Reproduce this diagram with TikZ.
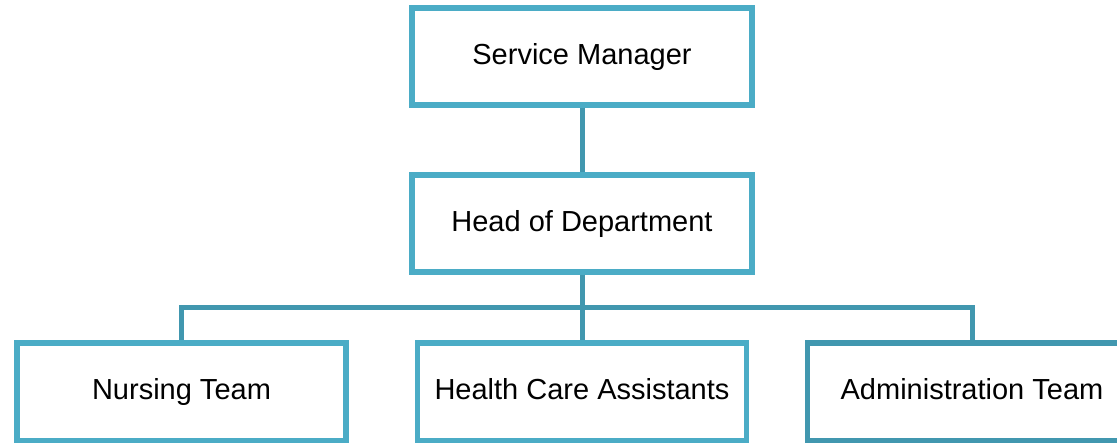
\documentclass[tikz,border=0pt]{standalone}
\usepackage{fontspec}
\setmainfont{Liberation Sans}
\definecolor{boxcol}{HTML}{4BACC6}
\definecolor{linkcol}{HTML}{4197AF}
\begin{document}
\begin{tikzpicture}[x=1pt, y=-1pt,
    unitbox/.style={draw=boxcol, line width=5.5pt, fill=white, rectangle,
      minimum width=329pt, minimum height=98pt, inner sep=0pt,
      text height=21pt, text depth=6pt,
      font=\fontsize{29pt}{34pt}\selectfont},
    topbox/.style={unitbox, minimum width=340pt, minimum height=97pt},
    link/.style={draw=linkcol, line width=5pt}]
      \useasboundingbox (0,0) rectangle (1117,442);
      \def\barY{307};
      %
      \node[topbox] (manager) at (582, 56.5) {Service Manager};   % top box
      \node[topbox] (head) at (582, 223.5) {Head of Department};
      %
      \node[unitbox] (nursing) at (181.5, 392) {Nursing Team};    % bottom row
      \node[unitbox] (assist) at (582, 392) {Health Care Assistants};
      \node[unitbox, draw=linkcol] (admin) at (972, 392) {Administration Team};
      %
      \coordinate (split) at (582, \barY);
      \draw[link] (manager.south) -- (head.north);
      \draw[link] (head.south) -- (split);
      \draw[link] (nursing.north) |- (split) -| (admin.north);
      \draw[link] (split) -- (assist.north);
      %
\end{tikzpicture}
\end{document}
